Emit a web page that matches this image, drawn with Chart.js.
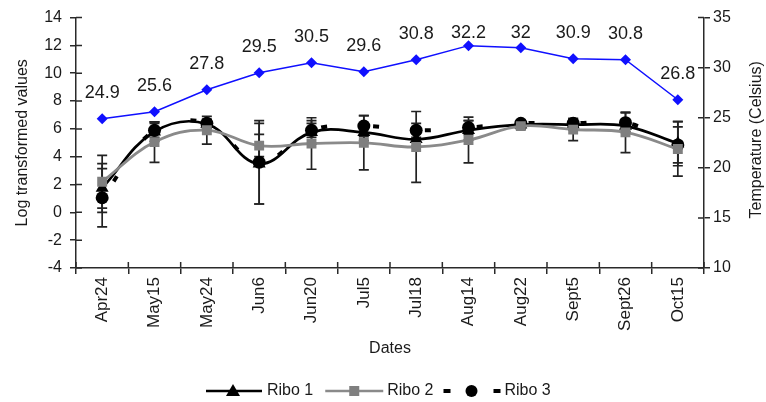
<!DOCTYPE html>
<html><head><meta charset="utf-8">
<script src="https://cdn.jsdelivr.net/npm/chart.js@4/dist/chart.umd.min.js"></script>
<style>html,body{margin:0;padding:0;background:#fff}#wrap{width:766px;height:402px}</style>
</head><body><div id="wrap"><canvas id="c" width="766" height="402"></canvas></div>
<script>
const dates = ['Apr24','May15','May24','Jun6','Jun20','Jul5','Jul18','Aug14','Aug22','Sept5','Sept26','Oct15'];
const ribo1 = [1.75, 5.8, 6.35, 3.5, 5.75, 5.75, 5.25, 5.9, 6.3, 6.3, 6.2, 4.95];
const ribo1Err = [1.75, 0.7, 0.3, 2.9, 0.85, 0.6, 0.5, 0.7, 0.3, 0.35, 0.4, 1.6];
const ribo2 = [2.2, 5.05, 5.9, 4.8, 4.95, 5.0, 4.7, 5.2, 6.2, 5.95, 5.75, 4.55];
const ribo2Err = [1.9, 1.45, 1.0, 0.8, 1.85, 1.95, 2.55, 1.65, 0.2, 0.8, 1.45, 1.95];
const ribo3 = [1.05, 5.9, 6.4, 3.6, 5.9, 6.2, 5.9, 6.1, 6.4, 6.4, 6.45, 4.85];
const ribo3Err = [2.1, 0.5, 0.3, 3.0, 0.5, 0.75, 0.5, 0.5, 0.2, 0.3, 0.7, 1.3];
const temperature = [24.9, 25.6, 27.8, 29.5, 30.5, 29.6, 30.8, 32.2, 32, 30.9, 30.8, 26.8];
const leftRange = {min: -4, max: 14, step: 2};
const rightRange = {min: 10, max: 35, step: 5};
const leftTitle = 'Log transformed values';
const rightTitle = 'Temperature (Celsius)';
const xTitle = 'Dates';
const seriesNames = ['Ribo 1', 'Ribo 2', 'Ribo 3'];

const FONT = 'Liberation Sans, Arial, sans-serif';
const AXIS = '#2a2a2a';
const TXT = '#1a1a1a';
const GRAY = '#8a8a8a';

const errPlugin = {
  id: 'errbars',
  beforeDatasetsDraw(chart) {
    const ctx = chart.ctx, x = chart.scales.x, y = chart.scales.y;
    const sets = [[ribo1, ribo1Err], [ribo2, ribo2Err], [ribo3, ribo3Err]];
    ctx.save();
    ctx.strokeStyle = '#222';
    ctx.lineWidth = 1.7;
    sets.forEach(([vals, errs]) => {
      vals.forEach((v, i) => {
        const px = x.getPixelForValue(i);
        const top = y.getPixelForValue(v + errs[i]);
        const bot = y.getPixelForValue(v - errs[i]);
        ctx.beginPath();
        ctx.moveTo(px, top); ctx.lineTo(px, bot);
        ctx.moveTo(px - 5, top); ctx.lineTo(px + 5, top);
        ctx.moveTo(px - 5, bot); ctx.lineTo(px + 5, bot);
        ctx.stroke();
      });
    });
    ctx.restore();
  }
};

const decoPlugin = {
  id: 'deco',
  afterDraw(chart) {
    const ctx = chart.ctx, ca = chart.chartArea;
    const x = chart.scales.x, y = chart.scales.y, y1 = chart.scales.y1;
    ctx.save();
    // inner halves of tick marks
    ctx.strokeStyle = AXIS; ctx.lineWidth = 1.5;
    ctx.beginPath();
    for (let i = 0; i <= dates.length; i++) {
      const px = x.getPixelForValue(i - 0.5);
      ctx.moveTo(px, ca.bottom); ctx.lineTo(px, ca.bottom - 6);
    }
    y.ticks.forEach(t => { const py = y.getPixelForValue(t.value); ctx.moveTo(ca.left, py); ctx.lineTo(ca.left + 6, py); });
    y1.ticks.forEach(t => { const py = y1.getPixelForValue(t.value); ctx.moveTo(ca.right, py); ctx.lineTo(ca.right - 6, py); });
    ctx.stroke();

    // temperature labels
    const meta = chart.getDatasetMeta(3);
    ctx.fillStyle = TXT;
    ctx.font = '18px ' + FONT;
    ctx.textAlign = 'center'; ctx.textBaseline = 'middle';
    meta.data.forEach((pt, i) => {
      const ly = Math.max(pt.y - 26, ca.top + 15);
      ctx.fillText(String(temperature[i]), pt.x, ly);
    });

    // right axis title (reads bottom to top)
    ctx.save();
    ctx.font = '16px ' + FONT;
    ctx.translate(757, (ca.top + ca.bottom) / 2 - 3);
    ctx.rotate(-Math.PI / 2);
    ctx.textAlign = 'center'; ctx.textBaseline = 'middle';
    ctx.fillText(rightTitle, 0, 0);
    ctx.restore();

    // legend
    const ly = 391;
    let cx = 206;
    ctx.font = '16px ' + FONT;
    ctx.textAlign = 'left'; ctx.textBaseline = 'middle';
    // Ribo 1
    ctx.strokeStyle = '#000'; ctx.lineWidth = 2.5;
    ctx.beginPath(); ctx.moveTo(cx, ly); ctx.lineTo(cx + 56, ly); ctx.stroke();
    ctx.fillStyle = '#000';
    ctx.beginPath(); ctx.moveTo(cx + 27, ly - 7); ctx.lineTo(cx + 34, ly + 5); ctx.lineTo(cx + 20, ly + 5); ctx.closePath(); ctx.fill();
    ctx.fillStyle = TXT; ctx.fillText(seriesNames[0], cx + 61, ly);
    cx = cx + 61 + ctx.measureText(seriesNames[0]).width + 12;
    // Ribo 2
    ctx.strokeStyle = GRAY; ctx.lineWidth = 2.5;
    ctx.beginPath(); ctx.moveTo(cx, ly); ctx.lineTo(cx + 58, ly); ctx.stroke();
    ctx.fillStyle = '#7f7f7f'; ctx.fillRect(cx + 24, ly - 5, 10, 10);
    ctx.fillStyle = TXT; ctx.fillText(seriesNames[1], cx + 62, ly);
    cx = cx + 62 + ctx.measureText(seriesNames[1]).width + 10;
    // Ribo 3
    ctx.fillStyle = '#000';
    ctx.fillRect(cx, ly - 2, 7, 4);
    ctx.beginPath(); ctx.arc(cx + 28, ly, 6, 0, Math.PI * 2); ctx.fill();
    ctx.fillRect(cx + 50, ly - 2, 7, 4);
    ctx.fillStyle = TXT; ctx.fillText(seriesNames[2], cx + 61, ly);
    ctx.restore();
  }
};

new Chart(document.getElementById('c'), {
  type: 'line',
  data: {
    labels: dates,
    datasets: [
      { label: seriesNames[0], data: ribo1, yAxisID: 'y', borderColor: '#000', backgroundColor: '#000',
        borderWidth: 2.7, tension: 0.4, pointStyle: 'triangle', pointRadius: 7.5, pointBorderWidth: 0, order: 2 },
      { label: seriesNames[1], data: ribo2, yAxisID: 'y', borderColor: GRAY, backgroundColor: '#7f7f7f',
        borderWidth: 2.8, tension: 0.4, pointStyle: 'rect', pointRadius: 7, pointBorderWidth: 0, order: 1 },
      { label: seriesNames[2], data: ribo3, yAxisID: 'y', borderColor: '#000', backgroundColor: '#000',
        borderWidth: 4, borderDash: [6, 46], borderDashOffset: -20, tension: 0.4, pointStyle: 'circle', pointRadius: 6.5, pointBorderWidth: 0, order: 3 },
      { label: 'Temperature', data: temperature, yAxisID: 'y1', borderColor: '#1010ff', backgroundColor: '#1010ff',
        borderWidth: 1.5, tension: 0, pointStyle: 'rectRot', pointRadius: 5.5, pointBorderWidth: 0, order: 0 }
    ]
  },
  options: {
    responsive: false, animation: false, devicePixelRatio: 1,
    layout: { padding: { top: 14, left: 0, right: 0, bottom: 0 } },
    plugins: { legend: { display: false }, tooltip: { enabled: false } },
    scales: {
      x: {
        type: 'category', offset: true,
        grid: { offset: true, drawOnChartArea: false, tickLength: 6, color: AXIS, lineWidth: 1.5 },
        border: { color: AXIS, width: 1.5 },
        ticks: { minRotation: 90, maxRotation: 90, autoSkip: false, padding: 3, color: TXT, font: { family: FONT, size: 17 } },
        title: { display: true, text: xTitle, color: TXT, font: { family: FONT, size: 16 }, padding: { top: 0, bottom: 44 } },
        afterFit(s) { s.height = 134; }
      },
      y: {
        position: 'left', min: leftRange.min, max: leftRange.max,
        grid: { drawOnChartArea: false, tickLength: 6, color: AXIS, lineWidth: 1.5 },
        border: { color: AXIS, width: 1.5 },
        ticks: { stepSize: leftRange.step, padding: 8, color: TXT, font: { family: FONT, size: 16 } },
        title: { display: true, text: leftTitle, color: TXT, font: { family: FONT, size: 16 }, padding: { top: 13, bottom: 0 } },
        afterFit(s) { s.width = 76; }
      },
      y1: {
        position: 'right', min: rightRange.min, max: rightRange.max,
        grid: { drawOnChartArea: false, tickLength: 6, color: AXIS, lineWidth: 1.5 },
        border: { color: AXIS, width: 1.5 },
        ticks: { stepSize: rightRange.step, padding: 3, color: TXT, font: { family: FONT, size: 16 } },
        afterFit(s) { s.width = 62; }
      }
    }
  },
  plugins: [errPlugin, decoPlugin]
});
</script></body></html>
